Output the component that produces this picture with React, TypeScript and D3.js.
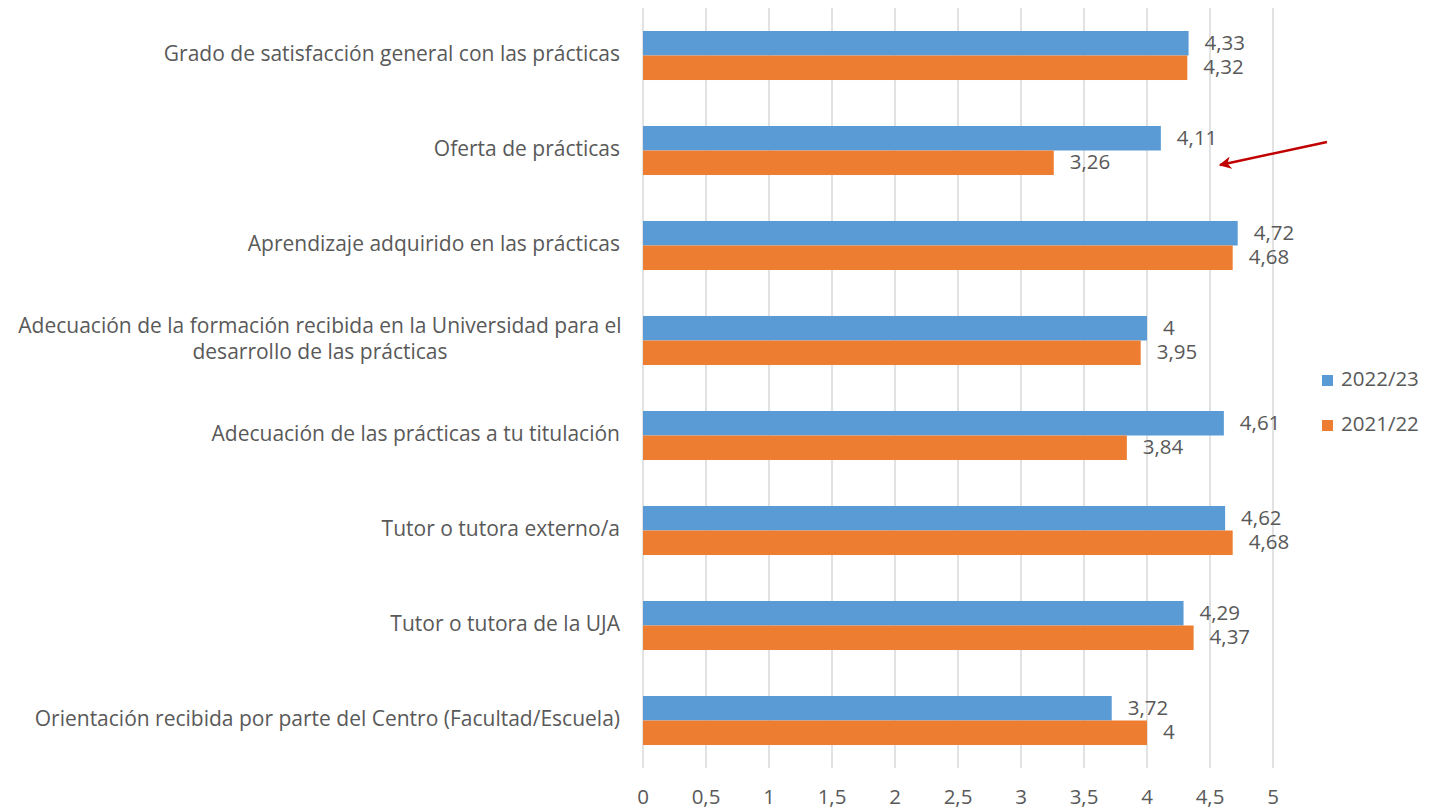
import React from "react";
import * as d3 from "d3";

const categories = [
  "Grado de satisfacción general con las prácticas",
  "Oferta de prácticas",
  "Aprendizaje adquirido en las prácticas",
  "Adecuación de la formación recibida en la Universidad para el|desarrollo de las prácticas",
  "Adecuación de las prácticas a tu titulación",
  "Tutor o tutora externo/a",
  "Tutor o tutora de la UJA",
  "Orientación recibida por parte del Centro (Facultad/Escuela)",
];
const series2223 = [4.33, 4.11, 4.72, 4, 4.61, 4.62, 4.29, 3.72];
const series2122 = [4.32, 3.26, 4.68, 3.95, 3.84, 4.68, 4.37, 4];
const seriesNames = ["2022/23", "2021/22"];
const colors = ["#5B9BD5", "#ED7D31"];
const xTicks = [0, 0.5, 1, 1.5, 2, 2.5, 3, 3.5, 4, 4.5, 5];

const W = 1448;
const H = 809;
const FONT = "'Open Sans', 'Liberation Sans', sans-serif";
const TEXT = "#595959";
const FS = 20.5;
const CAT_FS = 21;

export default function App() {
  const x = d3.scaleLinear().domain([0, 5]).range([643, 1273]);
  const y = d3.scaleBand<string>().domain(categories).range([8, 768]).paddingInner(0.484).paddingOuter(0.242);
  const bw = y.bandwidth() / 2;
  const fmt = (v: number) => String(v).replace(".", ",");
  const series = [series2223, series2122];

  return (
    <svg width={W} height={H} style={{ position: "absolute", left: 0, top: 0, background: "#fff" }} fontFamily={FONT}>
      <defs>
        <marker id="arr" viewBox="0 0 10 10" refX="9" refY="5" markerWidth="5" markerHeight="5" orient="auto">
          <path d="M0,0 L10,5 L0,10 L3,5 z" fill="#C00000" />
        </marker>
      </defs>
      {xTicks.map((t) => (
        <g key={t}>
          <line x1={x(t)} x2={x(t)} y1={8} y2={768} stroke="#D9D9D9" strokeWidth={1.5} />
          <text x={x(t)} y={799} textAnchor="middle" dominantBaseline="middle" fontSize={FS} fill={TEXT}>
            {fmt(t)}
          </text>
        </g>
      ))}
      {categories.map((c, i) => {
        const y0 = y(c)!;
        const lines = c.split("|");
        const cy = y0 + y.bandwidth() / 2;
        return (
          <g key={c}>
            {series.map((s, k) => (
              <g key={k}>
                <rect x={x(0)} y={y0 + k * bw} width={x(s[i]) - x(0)} height={bw} fill={colors[k]} />
                <text x={x(s[i]) + 16} y={y0 + k * bw + bw / 2 + 1} dominantBaseline="middle" fontSize={FS} fill={TEXT}>
                  {fmt(s[i])}
                </text>
              </g>
            ))}
            {lines.length === 1 ? (
              <text x={620} y={cy} textAnchor="end" dominantBaseline="middle" fontSize={CAT_FS} fill={TEXT}>
                {c}
              </text>
            ) : (
              lines.map((l, j) => (
                <text key={j} x={320} y={cy + (j - (lines.length - 1) / 2) * 26} textAnchor="middle" dominantBaseline="middle" fontSize={CAT_FS} fill={TEXT}>
                  {l}
                </text>
              ))
            )}
          </g>
        );
      })}
      {seriesNames.map((n, k) => (
        <g key={n}>
          <rect x={1322} y={375 + k * 45} width={11} height={11} fill={colors[k]} />
          <text x={1341} y={381 + k * 45} dominantBaseline="middle" fontSize={FS} fill={TEXT}>
            {n}
          </text>
        </g>
      ))}
      <line x1={1327} y1={142} x2={1220} y2={165} stroke="#C00000" strokeWidth={2.5} markerEnd="url(#arr)" />
    </svg>
  );
}
